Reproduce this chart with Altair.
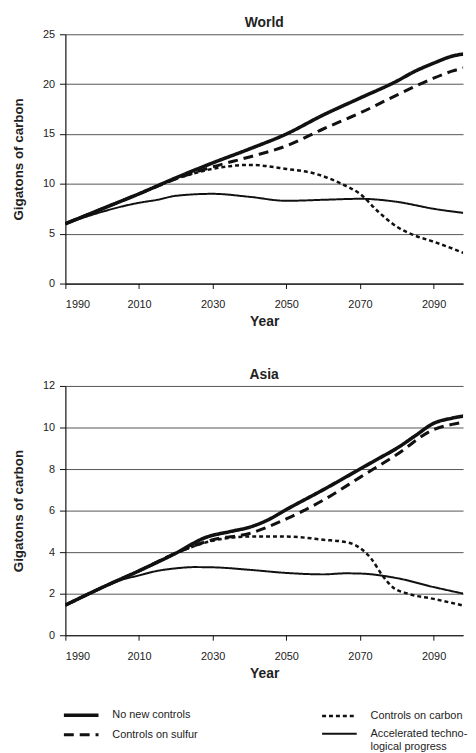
import altair as alt
import pandas as pd

# ---------------- data ----------------
x_ticks = [1990, 2010, 2030, 2050, 2070, 2090]
world_y_ticks = [0, 5, 10, 15, 20, 25]
asia_y_ticks = [0, 2, 4, 6, 8, 10, 12]

# legend is filled column by column: left column first, then right column
scenarios = ["No new controls", "Controls on sulfur", "Controls on carbon",
             "Accelerated technological progress"]

# World
world_none_years = [1990, 2000, 2010, 2020, 2030, 2040, 2050, 2060, 2070, 2080, 2085, 2090, 2095, 2100]
world_none_vals = [6.0, 7.5, 9.0, 10.6, 12.1, 13.5, 15.0, 16.9, 18.6, 20.3, 21.3, 22.1, 22.8, 23.1]

world_sulfur_years = [1990, 2000, 2010, 2020, 2030, 2040, 2050, 2060, 2070, 2080, 2090, 2095, 2100]
world_sulfur_vals = [6.0, 7.5, 9.0, 10.5, 11.7, 12.7, 13.8, 15.5, 17.1, 18.9, 20.6, 21.3, 21.8]

world_carbon_years = [1990, 2000, 2010, 2020, 2030, 2040, 2050, 2058, 2065, 2070, 2075, 2080, 2085, 2090, 2100]
world_carbon_vals = [6.0, 7.5, 9.0, 10.5, 11.5, 11.9, 11.5, 11.0, 10.0, 9.0, 7.2, 5.7, 4.8, 4.2, 2.8]

world_accel_years = [1990, 2000, 2005, 2010, 2015, 2020, 2030, 2040, 2050, 2060, 2070, 2080, 2090, 2100]
world_accel_vals = [6.0, 7.2, 7.7, 8.1, 8.4, 8.8, 9.0, 8.7, 8.3, 8.4, 8.5, 8.2, 7.5, 7.0]

# Asia
asia_none_years = [1990, 2000, 2010, 2020, 2028, 2035, 2040, 2045, 2050, 2060, 2070, 2075, 2080, 2085, 2090, 2095, 2100]
asia_none_vals = [1.45, 2.3, 3.1, 3.95, 4.7, 5.0, 5.2, 5.55, 6.05, 7.0, 8.0, 8.5, 9.0, 9.6, 10.2, 10.45, 10.6]

asia_sulfur_years = [1990, 2000, 2010, 2020, 2030, 2040, 2050, 2060, 2070, 2080, 2090, 2095, 2100]
asia_sulfur_vals = [1.45, 2.3, 3.1, 3.95, 4.6, 4.9, 5.6, 6.5, 7.6, 8.7, 9.9, 10.15, 10.3]

asia_carbon_years = [1990, 2000, 2010, 2020, 2030, 2040, 2050, 2060, 2067, 2070, 2073, 2076, 2079, 2083, 2090, 2100]
asia_carbon_vals = [1.45, 2.3, 3.1, 3.95, 4.55, 4.75, 4.75, 4.6, 4.45, 4.2, 3.7, 2.9, 2.3, 2.0, 1.75, 1.35]

asia_accel_years = [1990, 2000, 2005, 2010, 2015, 2020, 2025, 2030, 2040, 2050, 2060, 2066, 2070, 2080, 2090, 2100]
asia_accel_vals = [1.45, 2.3, 2.65, 2.88, 3.1, 3.22, 3.28, 3.27, 3.15, 3.0, 2.93, 2.98, 2.97, 2.75, 2.32, 1.93]

series = [
    ("World", "No new controls", world_none_years, world_none_vals),
    ("World", "Controls on sulfur", world_sulfur_years, world_sulfur_vals),
    ("World", "Controls on carbon", world_carbon_years, world_carbon_vals),
    ("World", "Accelerated technological progress", world_accel_years, world_accel_vals),
    ("Asia", "No new controls", asia_none_years, asia_none_vals),
    ("Asia", "Controls on sulfur", asia_sulfur_years, asia_sulfur_vals),
    ("Asia", "Controls on carbon", asia_carbon_years, asia_carbon_vals),
    ("Asia", "Accelerated technological progress", asia_accel_years, asia_accel_vals),
]
rows = []
for region, scen, yrs, vals in series:
    for yr, v in zip(yrs, vals):
        rows.append({"region": region, "scenario": scen, "year": yr, "value": v})
df = pd.DataFrame(rows)

# ---------------- styling ----------------
FONT = "Liberation Sans"
INK = "#111111"
dashes = [[1, 0], [10, 6], [4, 3], [1, 0]]
widths = [3.6, 2.0, 2.0, 1.4]

legend = alt.Legend(
    orient="none", legendX=4, legendY=676, columns=2,
    symbolType="M-1.75,0L1.75,0", symbolSize=400,
    symbolStrokeColor=INK, symbolFillColor="transparent",
    labelFont=FONT, labelFontSize=11, labelColor="#222222", labelLimit=400,
    labelOffset=19.5, columnPadding=120, rowPadding=0,
    labelExpr="datum.label == 'Accelerated technological progress' ? ['Accelerated techno-', 'logical progress'] : datum.label",
)


def panel(region, yticks, ymax):
    return alt.Chart(df[df.region == region]).mark_line(
        interpolate="monotone", color=INK, strokeCap="butt", clip=True
    ).encode(
        x=alt.X("year:Q", scale=alt.Scale(domain=[1990, 2098], nice=False, zero=False),
                axis=alt.Axis(values=x_ticks, format="d", title="Year", grid=False)),
        y=alt.Y("value:Q", scale=alt.Scale(domain=[0, ymax], nice=False),
                axis=alt.Axis(values=yticks, title="Gigatons of carbon", grid=True)),
        strokeDash=alt.StrokeDash("scenario:N", scale=alt.Scale(domain=scenarios, range=dashes),
                                  title=None, legend=legend),
        strokeWidth=alt.StrokeWidth("scenario:N", scale=alt.Scale(domain=scenarios, range=widths),
                                    title=None, legend=legend),
    ).properties(
        width=402, height=252,
        title=alt.TitleParams(region, font=FONT, fontSize=14, fontWeight="bold",
                              color="#222222", offset=-2, frame="group", anchor="middle"),
    )


world = panel("World", world_y_ticks, 25)
asia = panel("Asia", asia_y_ticks, 12)

chart = alt.vconcat(world, asia, spacing=39.5).properties(
    padding={"left": 3, "top": 4.5, "right": 0, "bottom": 0}
).configure_view(stroke=None).configure_axis(
    labelFont=FONT, labelFontSize=11, labelColor="#222222",
    titleFont=FONT, titleFontSize=14, titleFontWeight="bold", titleColor="#222222",
    domainColor=INK, domainWidth=1.2, tickColor=INK, tickWidth=1,
    gridColor="#555555", gridWidth=1,
).configure_axisX(
    tickSize=5, labelPadding=10.5, titlePadding=5,
).configure_axisY(
    tickSize=6, labelPadding=5, titlePadding=17, titleFontSize=13.5,
)

chart.save("out.html", embed_options={"renderer": "svg", "actions": False})
